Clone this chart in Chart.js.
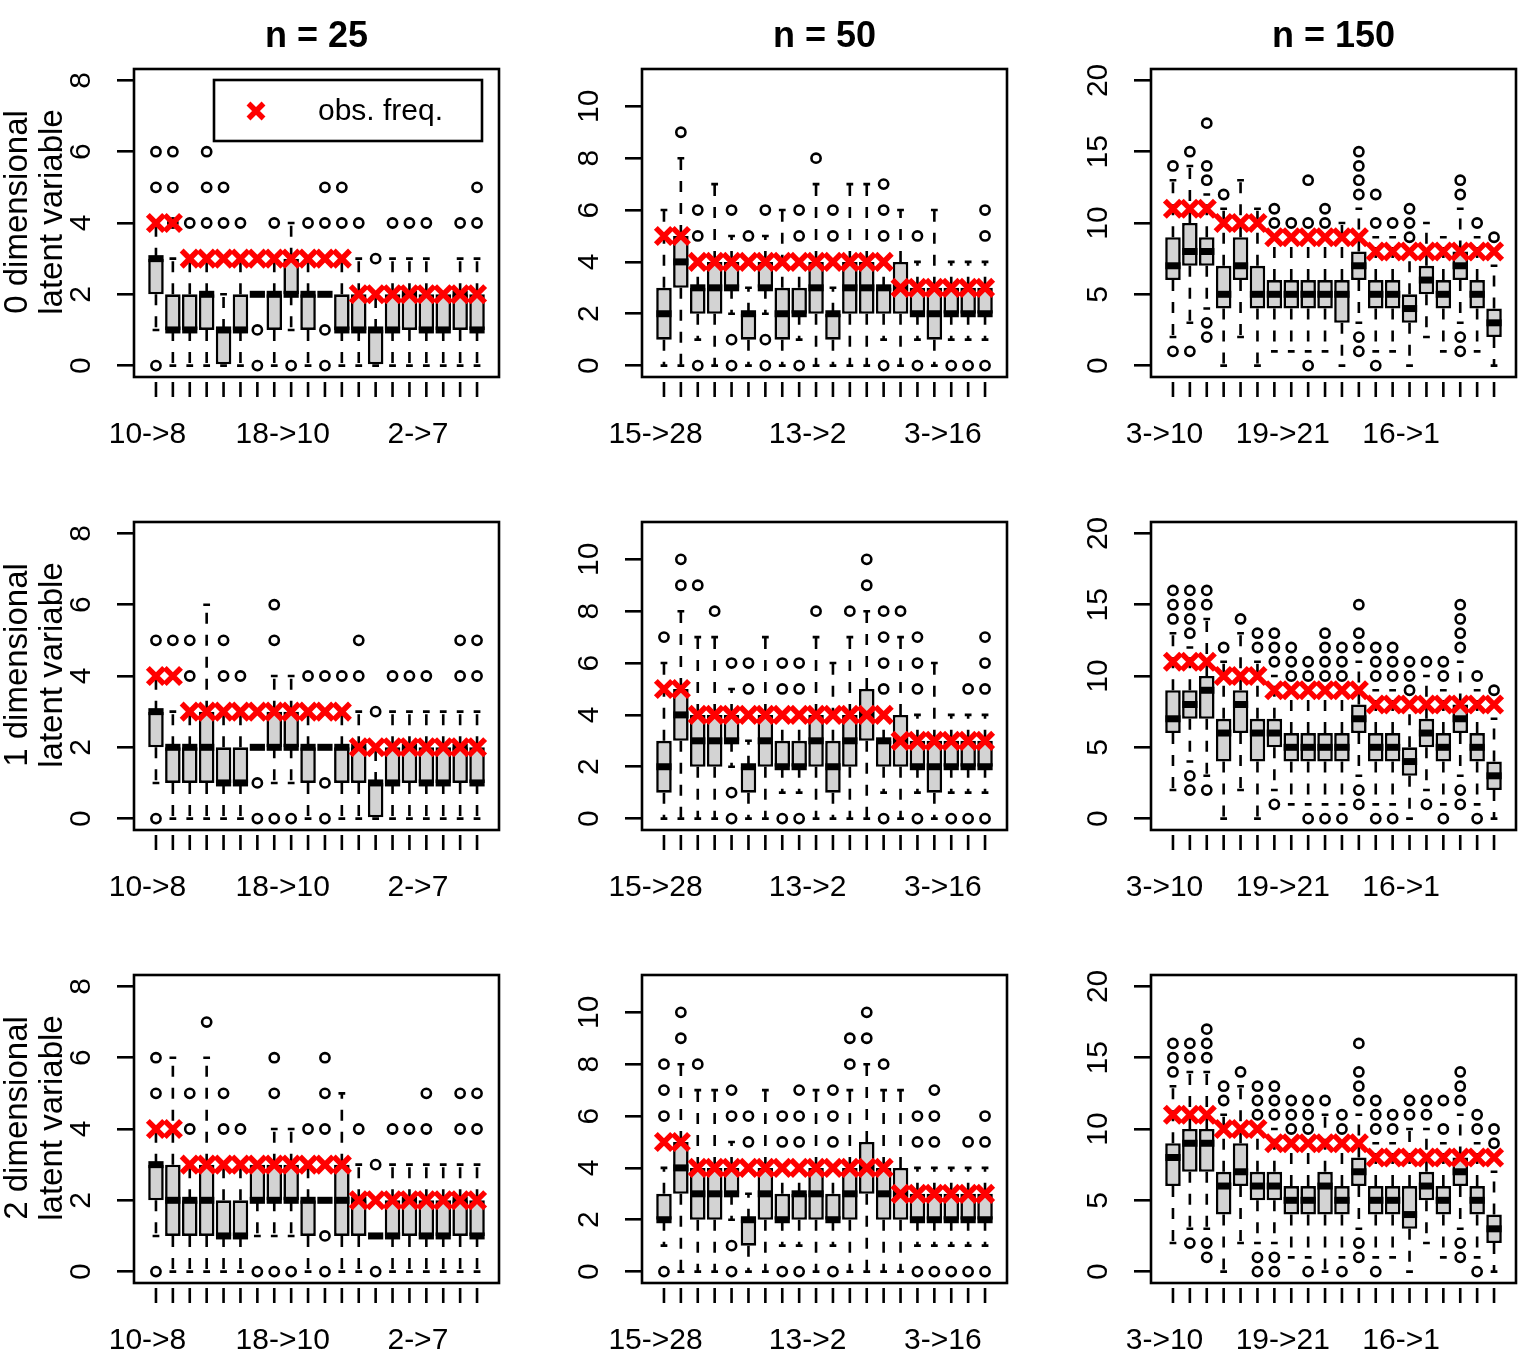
<!DOCTYPE html>
<html>
<head>
<meta charset="utf-8">
<script src="https://cdn.jsdelivr.net/npm/chart.js@4.4.0/dist/chart.umd.min.js"></script>
<style>
body { margin: 0; background: #fff; }
#fig { position: relative; width: 1526px; height: 1356px; overflow: hidden; }
#fig canvas { position: absolute; }
.coltitle { position: absolute; width: 300px; text-align: center; font: bold 36px 'Liberation Sans', Arial, sans-serif; line-height: 36px; top: 17px; }
.rowlab { position: absolute; width: 320px; height: 70px; text-align: center; font: 33px 'Liberation Sans', Arial, sans-serif; line-height: 35px; transform: rotate(-90deg); white-space: nowrap; }
</style>
</head>
<body>
<div id="fig"></div>
<script>
var colTitles = ["n = 25", "n = 50", "n = 150"];
var rowTitles = [["0 dimensional", "latent variable"], ["1 dimensional", "latent variable"], ["2 dimensional", "latent variable"]];

// x labels that R managed to fit, and where they sit
var labels25 = ["10->8", "18->10", "2->7"];
var labels50 = ["15->28", "13->2", "3->16"];
var labels150 = ["3->10", "19->21", "16->1"];
var labelAt25 = [0.5, 8.5, 16.5];
var labelAt50 = [0.5, 9.5, 17.5];
var labelAt150 = [0.5, 7.5, 14.5];

var yTicks25 = [0, 2, 4, 6, 8];
var yTicks50 = [0, 2, 4, 6, 8, 10];
var yTicks150 = [0, 5, 10, 15, 20];
var yMax = [8, 11, 20];

// observed frequencies (red crosses)
var obs25 = [4, 4, 3, 3, 3, 3, 3, 3, 3, 3, 3, 3, 2, 2, 2, 2, 2, 2, 2, 2];
var obs50 = [5, 5, 4, 4, 4, 4, 4, 4, 4, 4, 4, 4, 4, 4, 3, 3, 3, 3, 3, 3];
var obs150 = [11, 11, 11, 10, 10, 10, 9, 9, 9, 9, 9, 9, 8, 8, 8, 8, 8, 8, 8, 8];

// box stats: [lower whisker, q1, median, q3, upper whisker]
var stats0D25 = [[1,2,3,3,4],[0,1,1,2,3],[0,1,1,2,3],[0,1,2,2,3],[0,0,1,1,2],[0,1,1,2,3],[2,2,2,2,2],[0,1,2,2,3],[1,2,2,3,4],[0,1,2,2,3],
  [2,2,2,2,2],[0,1,1,2,3],[0,1,1,2,3],[0,0,1,1,2],[0,1,1,2,3],[0,1,2,2,3],[0,1,1,2,3],[0,1,1,2,2],[0,1,2,2,3],[0,1,1,2,3]];
var out0D25 = [[0,5,6],[4,5,6],[4],[4,5,6],[4,5],[4],[0,1],[4],[0],[4],[0,1,4,5],[4,5],[4],[3],[4],[4],[4],[],[4],[4,5]];

var stats0D50 = [[0,1,2,3,6],[0,3,4,5,8],[1,2,3,3,4],[0,2,3,4,7],[2,3,3,4,5],[0,1,2,2,3],[2,3,3,4,5],[0,1,2,3,6],[1,2,2,3,4],[0,2,3,4,7],
  [0,1,2,2,3],[0,2,3,4,7],[0,2,3,4,7],[1,2,3,3,4],[0,2,3,4,6],[1,2,2,3,4],[0,1,2,3,6],[1,2,2,3,4],[1,2,2,3,4],[1,2,2,3,4]];
var out0D50 = [[],[9],[0,5,6],[],[0,1,6],[5],[0,1,6],[],[0,5,6],[8],[5,6],[],[],[0,5,6,7],[],[0,5],[],[0],[0],[0,5,6]];

var stats0D150 = [[2,6,7,9,13],[3,7,8,10,14],[4,7,8,9,12],[0,4,5,7,11],[2,6,7,9,13],[0,4,5,7,11],[1,4,5,6,9],[1,4,5,6,9],[1,4,5,6,9],[1,4,5,6,9],
  [0,3,5,6,10],[3,6,7,8,11],[1,4,5,6,9],[1,4,5,6,9],[0,3,4,5,8],[2,5,6,7,10],[1,4,5,6,9],[3,6,7,8,11],[1,4,5,6,9],[0,2,3,4,7]];
var out0D150 = [[1,14],[1,15],[2,3,13,14,17],[12],[],[],[10,11],[10],[0,10,13],[10,11],[],[1,2,12,13,14,15],[0,10,12],[10],[9,10,11],[],[],[1,2,12,13],[10],[9]];

var stats1D25 = [[1,2,3,3,4],[0,1,2,2,3],[0,1,2,2,3],[0,1,2,3,6],[0,1,1,2,3],[0,1,1,2,3],[2,2,2,2,2],[1,2,2,3,4],[1,2,2,3,4],[0,1,2,2,3],
  [2,2,2,2,2],[0,1,2,2,3],[0,1,2,2,3],[0,0,1,1,2],[0,1,1,2,3],[0,1,2,2,3],[0,1,1,2,3],[0,1,1,2,3],[0,1,2,2,3],[0,1,1,2,3]];
var out1D25 = [[0,5],[5],[4,5],[],[4,5],[4],[0,1],[0,5,6],[0],[4],[0,1,4],[4],[4,5],[3],[4],[4],[4],[],[4,5],[4,5]];

var stats1D50 = [[0,1,2,3,6],[0,3,4,5,8],[0,2,3,4,7],[0,2,3,4,7],[2,3,3,4,5],[0,1,2,2,3],[0,2,3,4,7],[1,2,2,3,4],[1,2,2,3,4],[0,2,3,4,7],
  [0,1,2,3,6],[0,2,3,4,7],[0,3,4,5,8],[1,2,3,3,4],[0,2,3,4,7],[1,2,2,3,4],[0,1,2,3,6],[1,2,2,3,4],[1,2,2,3,4],[1,2,2,3,4]];
var out1D50 = [[7],[9,10],[9],[8],[0,1,6],[5,6],[],[0,5,6],[0,5,6],[8],[],[8],[9,10],[0,5,6,7,8],[8],[0,5,6,7],[],[0],[0,5],[0,5,6,7]];

var stats1D150 = [[2,6,7,9,13],[4,7,8,9,12],[3,7,9,10,14],[0,4,6,7,11],[2,6,8,9,13],[0,4,6,7,11],[2,5,6,7,10],[1,4,5,6,9],[1,4,5,6,9],[1,4,5,6,9],
  [1,4,5,6,9],[3,6,7,8,11],[1,4,5,6,9],[1,4,5,6,9],[0,3,4,5,8],[2,5,6,7,10],[1,4,5,6,9],[3,6,7,8,11],[1,4,5,6,9],[0,2,3,4,7]];
var out1D150 = [[14,15,16],[2,3,13,14,15,16],[2,15,16],[12],[14],[12,13],[1,11,12,13],[10,11,12],[0,10,11],[0,10,11,12,13],
  [0,10,11,12],[1,2,12,13,15],[0,10,11,12],[0,10,11,12],[9,10,11],[1,11],[0,10,11],[1,2,12,13,14,15],[0,10],[9]];

var stats2D25 = [[1,2,3,3,4],[0,1,2,3,6],[0,1,2,2,3],[0,1,2,3,6],[0,1,1,2,3],[0,1,1,2,3],[1,2,2,3,3],[1,2,2,3,4],[1,2,2,3,4],[0,1,2,2,3],
  [2,2,2,2,2],[0,1,2,3,5],[0,1,2,2,3],[1,1,1,1,1],[0,1,1,2,3],[0,1,2,2,3],[0,1,1,2,3],[0,1,1,2,3],[0,1,2,2,3],[0,1,1,2,3]];
var out2D25 = [[0,5,6],[],[4,5],[7],[4,5],[4],[0],[0,5,6],[0],[4],[0,1,4,5,6],[],[4],[0,3],[4],[4],[4,5],[],[4,5],[4,5]];

var stats2D50 = [[1,2,2,3,4],[0,3,4,5,8],[0,2,3,4,7],[0,2,3,4,7],[2,3,3,4,5],[0,1,2,2,3],[0,2,3,4,7],[1,2,2,3,4],[1,2,3,3,4],[0,2,3,4,7],
  [1,2,2,3,4],[0,2,3,4,7],[0,3,4,5,8],[0,2,3,4,7],[0,2,3,4,7],[1,2,2,3,4],[1,2,2,3,4],[1,2,2,3,4],[1,2,2,3,4],[1,2,2,3,4]];
var out2D50 = [[0,6,7,8],[9,10],[8],[],[0,1,6,7],[5,6],[],[0,5,6],[0,5,6,7],[],[0,5,6,7],[8,9],[9,10],[8],[],[0,5,6],[0,5,6,7],[0],[0,5],[0,5,6]];

var stats2D150 = [[2,6,8,9,13],[3,7,9,10,14],[3,7,9,10,14],[0,4,6,7,11],[2,6,7,9,13],[2,5,6,7,10],[2,5,6,7,10],[1,4,5,6,9],[1,4,5,6,9],[0,4,6,7,11],
  [1,4,5,6,9],[3,6,7,8,11],[1,4,5,6,9],[1,4,5,6,9],[0,3,4,6,10],[2,5,6,7,10],[1,4,5,6,9],[3,6,7,8,11],[1,4,5,6,9],[0,2,3,4,7]];
var out2D150 = [[14,15,16],[2,15,16],[1,2,15,16,17],[12,13],[14],[0,1,11,12,13],[0,1,11,12,13],[10,11,12],[0,10,11,12],[12],
  [0,10,11],[1,2,12,13,14,16],[0,10,11,12],[10,11],[11,12],[11,12],[10,12],[1,2,12,13,14],[0,10,11],[9,10]];

var columns = [
  {labels: labels25, labelAt: labelAt25, yTicks: yTicks25, obs: obs25},
  {labels: labels50, labelAt: labelAt50, yTicks: yTicks50, obs: obs50},
  {labels: labels150, labelAt: labelAt150, yTicks: yTicks150, obs: obs150}
];
var panels = [
  [stats0D25, out0D25], [stats0D50, out0D50], [stats0D150, out0D150],
  [stats1D25, out1D25], [stats1D50, out1D50], [stats1D150, out1D150],
  [stats2D25, out2D25], [stats2D50, out2D50], [stats2D150, out2D150]
];

var FONT = "'Liberation Sans', Arial, sans-serif";
Chart.defaults.font.family = FONT;
Chart.defaults.color = "#000";

var LW = 2.6;
var colLeft = [0, 508, 1017];
var rowTop = [0, 453, 906];
var CW = 509, CH = 453;
var frameTop = 69, frameBottom = 377, frameLeft = 134, frameRightPad = 10;

// whiskers + staples go under the boxes; frame, x ticks and legend on top
var boxPlugin = {
  id: "rbox",
  beforeDatasetsDraw: function(chart, args, opts) {
    var ctx = chart.ctx, x = chart.scales.x, y = chart.scales.y;
    ctx.save();
    ctx.strokeStyle = "#000";
    ctx.lineWidth = LW;
    opts.stats.forEach(function(s, i) {
      var px = x.getPixelForValue(i + 1);
      var half = x.getPixelForValue(i + 1.2) - px;
      ctx.setLineDash([11, 11]);
      ctx.beginPath();
      ctx.moveTo(px, y.getPixelForValue(s[3])); ctx.lineTo(px, y.getPixelForValue(s[4]));
      ctx.moveTo(px, y.getPixelForValue(s[1])); ctx.lineTo(px, y.getPixelForValue(s[0]));
      ctx.stroke();
      ctx.setLineDash([]);
      ctx.beginPath();
      [s[0], s[4]].forEach(function(v) {
        var py = y.getPixelForValue(v);
        ctx.moveTo(px - half, py); ctx.lineTo(px + half, py);
      });
      ctx.stroke();
    });
    ctx.restore();
  },
  afterDraw: function(chart, args, opts) {
    var ctx = chart.ctx, ca = chart.chartArea, x = chart.scales.x;
    ctx.save();
    ctx.strokeStyle = "#000";
    ctx.lineWidth = LW;
    ctx.strokeRect(ca.left, ca.top, ca.right - ca.left, ca.bottom - ca.top);
    ctx.beginPath();
    for (var i = 1; i <= opts.stats.length; i++) {
      var px = x.getPixelForValue(i);
      ctx.moveTo(px, ca.bottom + 5); ctx.lineTo(px, ca.bottom + 20);
    }
    ctx.stroke();
    if (opts.legend) {
      ctx.strokeRect(ca.left + 80, ca.top + 11, 268, 61);
      var cx = ca.left + 122, cy = ca.top + 42, r = 7.5;
      ctx.strokeStyle = "#ff0000";
      ctx.lineWidth = 5.5;
      ctx.beginPath();
      ctx.moveTo(cx - r, cy - r); ctx.lineTo(cx + r, cy + r);
      ctx.moveTo(cx - r, cy + r); ctx.lineTo(cx + r, cy - r);
      ctx.stroke();
      ctx.fillStyle = "#000";
      ctx.font = "30px " + FONT;
      ctx.textBaseline = "alphabetic";
      ctx.fillText(opts.legend, ca.left + 184, ca.top + 51);
    }
    ctx.restore();
  }
};

var measure = document.createElement("canvas").getContext("2d");
measure.font = "30px " + FONT;

var fig = document.getElementById("fig");

panels.forEach(function(p, k) {
  var row = Math.floor(k / 3), col = k % 3;
  var c = columns[col];
  var stats = p[0], outs = p[1];
  var h = row === 2 ? 450 : CH;
  var canvas = document.createElement("canvas");
  canvas.width = CW; canvas.height = h;
  canvas.style.left = colLeft[col] + "px";
  canvas.style.top = rowTop[row] + "px";
  fig.appendChild(canvas);

  var widest = Math.max.apply(null, c.yTicks.map(function(v) { return measure.measureText(String(v)).width; }));
  var ymax = yMax[col];

  var boxes = stats.map(function(s, i) { return {x: i + 1, y: [s[1], s[3]]}; });
  var medians = stats.map(function(s, i) { return {x: i + 1, y: s[2]}; });
  var outliers = [];
  outs.forEach(function(o, i) { o.forEach(function(v) { outliers.push({x: i + 1, y: v}); }); });
  var crosses = c.obs.map(function(v, i) { return {x: i + 1, y: v}; });

  new Chart(canvas, {
    type: "bar",
    data: {
      datasets: [
        {type: "line", label: "obs. freq.", data: crosses, showLine: false, pointStyle: "crossRot",
         pointRadius: 11.5, pointBorderWidth: 5.5, pointBorderColor: "#ff0000", pointBackgroundColor: "#ff0000", order: 0},
        {type: "line", label: "outliers", data: outliers, showLine: false, pointStyle: "circle",
         pointRadius: 4.6, pointBorderWidth: LW, pointBorderColor: "#000", pointBackgroundColor: "rgba(0,0,0,0)", order: 1},
        {type: "line", label: "median", data: medians, showLine: false, pointStyle: "line",
         pointRadius: 7.6, pointBorderWidth: 7, pointBorderColor: "#000", order: 2},
        {type: "bar", label: "IQR", data: boxes, backgroundColor: "#d3d3d3", borderColor: "#000",
         borderWidth: LW, borderSkipped: false, barPercentage: 0.92, categoryPercentage: 1, order: 3}
      ]
    },
    options: {
      responsive: false,
      animation: false,
      devicePixelRatio: 1,
      events: [],
      layout: {autoPadding: false, padding: {top: frameTop, right: frameRightPad, left: 0, bottom: 0}},
      plugins: {
        legend: {display: false},
        tooltip: {enabled: false},
        rbox: {stats: stats, legend: k === 0 ? "obs. freq." : null}
      },
      scales: {
        x: {
          type: "linear", min: -0.3, max: 21.3, bounds: "data", offset: false,
          afterBuildTicks: function(ax) { ax.ticks = c.labelAt.map(function(v) { return {value: v}; }); },
          afterFit: function(ax) { ax.height = h - frameBottom; ax.paddingLeft = 0; ax.paddingRight = 0; },
          ticks: {callback: function(v, i) { return c.labels[i]; }, autoSkip: false, minRotation: 0, maxRotation: 0,
                  padding: 40, font: {size: 30}, color: "#000"},
          grid: {display: false, drawTicks: false, tickLength: 0, offset: false},
          border: {display: false}
        },
        y: {
          type: "linear", min: -0.04 * ymax, max: 1.04 * ymax, bounds: "data",
          afterBuildTicks: function(ax) { ax.ticks = c.yTicks.map(function(v) { return {value: v}; }); },
          afterFit: function(ax) { ax.width = frameLeft; ax.paddingTop = 0; ax.paddingBottom = 0; },
          ticks: {minRotation: 90, maxRotation: 90, crossAlign: "center", padding: 35 - widest / 2,
                  font: {size: 30}, color: "#000", callback: function(v) { return String(v); }},
          grid: {drawOnChartArea: false, drawTicks: true, tickLength: 17, color: "#000", lineWidth: LW},
          border: {display: false}
        }
      }
    },
    plugins: [boxPlugin]
  });
});

colTitles.forEach(function(t, col) {
  var d = document.createElement("div");
  d.className = "coltitle";
  d.textContent = t;
  d.style.left = (colLeft[col] + frameLeft + (CW - frameLeft - frameRightPad) / 2 - 150) + "px";
  fig.appendChild(d);
});

rowTitles.forEach(function(lines, row) {
  var d = document.createElement("div");
  d.className = "rowlab";
  d.innerHTML = lines[0] + "<br>" + lines[1];
  d.style.left = (33 - 160) + "px";
  d.style.top = (rowTop[row] + 212 - 35) + "px";
  fig.appendChild(d);
});
</script>
</body>
</html>
